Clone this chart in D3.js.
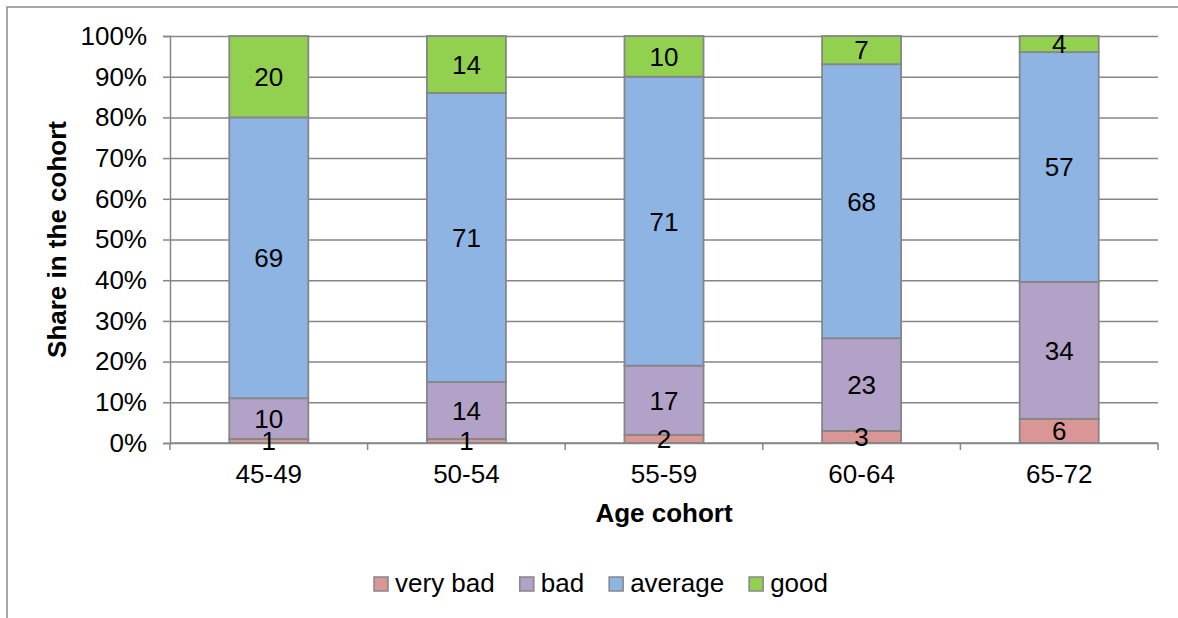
<!DOCTYPE html>
<html>
<head>
<meta charset="utf-8">
<script src="https://cdn.jsdelivr.net/npm/d3@7"></script>
<style>
  html, body { margin: 0; padding: 0; background: #fff; }
  svg { display: block; }
  text { font-family: "Liberation Sans", Arial, sans-serif; fill: #000; }
</style>
</head>
<body>
<svg id="chart" width="1178" height="618"></svg>
<script>
// Health self-assessment by age cohort (counts shown as labels, stacked to 100%)
const cohorts = ["45-49", "50-54", "55-59", "60-64", "65-72"];
const seriesNames = ["very bad", "bad", "average", "good"];
const veryBad = [1, 1, 2, 3, 6];
const bad = [10, 14, 17, 23, 34];
const average = [69, 71, 71, 68, 57];
const good = [20, 14, 10, 7, 4];
const yTickValues = [0, 0.1, 0.2, 0.3, 0.4, 0.5, 0.6, 0.7, 0.8, 0.9, 1.0];
const colors = ["#d99694", "#b3a2c7", "#8eb4e3", "#92d050"];

const table = cohorts.map((c, i) => ({
  cohort: c,
  "very bad": veryBad[i],
  "bad": bad[i],
  "average": average[i],
  "good": good[i]
}));

const svg = d3.select("#chart");
const gridColor = "#868686";
const fontSize = "26px";
const plot = { left: 170, right: 1158, top: 36, bottom: 443 };

// outer chart frame
svg.append("rect")
  .attr("x", 7).attr("y", 7)
  .attr("width", 3000).attr("height", 3000)
  .attr("fill", "none").attr("stroke", "#8c8c8c").attr("stroke-width", 1.5);

const x = d3.scaleBand()
  .domain(cohorts)
  .range([plot.left, plot.right])
  .paddingInner(0.6)
  .paddingOuter(0.3);

const y = d3.scaleLinear().domain([0, 1]).range([plot.bottom, plot.top]);

const stacked = d3.stack()
  .keys(seriesNames)
  .offset(d3.stackOffsetExpand)(table);

// horizontal gridlines and y ticks
const yAxis = d3.axisLeft(y)
  .tickValues(yTickValues)
  .tickSize(7)
  .tickPadding(16)
  .tickFormat(d3.format(".0%"));
const yg = svg.append("g").attr("transform", `translate(${plot.left},0)`).call(yAxis);
yg.select(".domain").attr("stroke", gridColor).attr("stroke-width", 1.5);
yg.selectAll(".tick line").attr("stroke", gridColor).attr("stroke-width", 1.5);
yg.selectAll(".tick text").style("font-size", fontSize).style("font-family", "'Liberation Sans', Arial, sans-serif");
yg.selectAll(".tick").append("line")
  .attr("x1", 0).attr("x2", plot.right - plot.left)
  .attr("stroke", gridColor).attr("stroke-width", 1.5);

// x axis: category boundary ticks
const step = x.step();
const x0 = plot.left;
const xg = svg.append("g");
xg.selectAll("line.bt")
  .data(d3.range(cohorts.length + 1))
  .join("line")
  .attr("x1", i => x0 + i * step).attr("x2", i => x0 + i * step)
  .attr("y1", plot.bottom).attr("y2", plot.bottom + 7)
  .attr("stroke", gridColor).attr("stroke-width", 1.5);
xg.selectAll("text")
  .data(cohorts)
  .join("text")
  .attr("x", d => x(d) + x.bandwidth() / 2)
  .attr("y", 483)
  .attr("text-anchor", "middle")
  .style("font-size", fontSize)
  .text(d => d);

// stacked bars
const layers = svg.append("g").selectAll("g")
  .data(stacked)
  .join("g")
  .attr("fill", (d, i) => colors[i]);

layers.selectAll("rect")
  .data(d => d)
  .join("rect")
  .attr("x", d => x(d.data.cohort))
  .attr("width", x.bandwidth())
  .attr("y", d => y(d[1]))
  .attr("height", d => y(d[0]) - y(d[1]))
  .attr("stroke", gridColor)
  .attr("stroke-width", 1.8);

// baseline drawn over the bars
svg.append("line")
  .attr("x1", plot.left).attr("x2", plot.right)
  .attr("y1", plot.bottom).attr("y2", plot.bottom)
  .attr("stroke", gridColor).attr("stroke-width", 1.5);

// value labels at segment centres
const labels = svg.append("g");
stacked.forEach(layer => {
  layer.forEach(d => {
    labels.append("text")
      .attr("x", x(d.data.cohort) + x.bandwidth() / 2)
      .attr("y", y((d[0] + d[1]) / 2))
      .attr("dy", "0.36em")
      .attr("text-anchor", "middle")
      .style("font-size", fontSize)
      .text(d.data[layer.key]);
  });
});

// axis titles
svg.append("text")
  .attr("x", (plot.left + plot.right) / 2)
  .attr("y", 522)
  .attr("text-anchor", "middle")
  .style("font-size", fontSize)
  .style("font-weight", "bold")
  .text("Age cohort");

svg.append("text")
  .attr("transform", `translate(65.5,${(plot.top + plot.bottom) / 2}) rotate(-90)`)
  .attr("text-anchor", "middle")
  .style("font-size", fontSize)
  .style("font-weight", "bold")
  .text("Share in the cohort");

// legend
const legend = svg.append("g");
const items = legend.selectAll("g")
  .data(seriesNames)
  .join("g");
items.append("rect")
  .attr("width", 14).attr("height", 14)
  .attr("y", 577)
  .attr("fill", (d, i) => colors[i])
  .attr("stroke", gridColor).attr("stroke-width", 1.5);
items.append("text")
  .attr("x", 21)
  .attr("y", 592)
  .style("font-size", fontSize)
  .text(d => d);
let cursor = 0;
const positions = [];
items.each(function () {
  const w = this.querySelector("text").getComputedTextLength();
  positions.push(cursor);
  cursor += 21 + w + 25;
});
const legendWidth = cursor - 25;
const legendStart = 601 - legendWidth / 2;
items.attr("transform", (d, i) => `translate(${legendStart + positions[i]},0)`);
</script>
</body>
</html>
